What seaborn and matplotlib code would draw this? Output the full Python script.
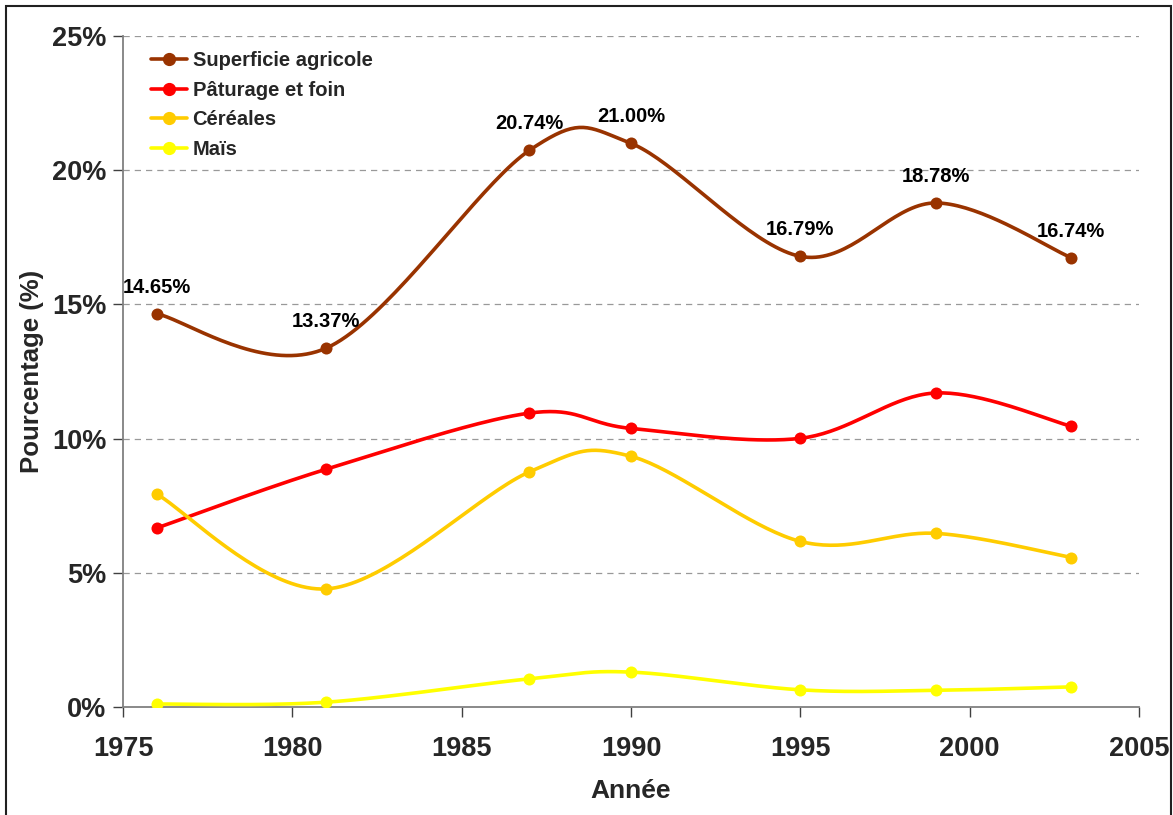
import numpy as np
import pandas as pd
import matplotlib
matplotlib.use("Agg")
import matplotlib.pyplot as plt
from matplotlib.lines import Line2D
from matplotlib.patches import Rectangle
import seaborn as sns

years = [1976, 1981, 1987, 1990, 1995, 1999, 2003]
superficie = [14.65, 13.37, 20.74, 21.00, 16.79, 18.78, 16.74]
paturage = [6.67, 8.86, 10.95, 10.38, 10.01, 11.70, 10.46]
cereales = [7.93, 4.40, 8.76, 9.34, 6.17, 6.47, 5.57]
mais = [0.11, 0.18, 1.05, 1.30, 0.64, 0.62, 0.75]

series_names = ["Superficie agricole", "Pâturage et foin", "Céréales", "Maïs"]
series_values = [superficie, paturage, cereales, mais]
colors = ["#993300", "#FF0000", "#FFCC00", "#FFFF00"]
label_texts = ["14.65%", "13.37%", "20.74%", "21.00%", "16.79%", "18.78%", "16.74%"]

sns.set_theme(style="white")
plt.rcParams['font.family'] = ['Liberation Sans', 'DejaVu Sans']
plt.rcParams['font.weight'] = 'bold'


def smooth(xs, ys, n=40):
    """Catmull-Rom style Bezier smoothing (as in spreadsheet 'smoothed line')."""
    P = np.column_stack([xs, ys]).astype(float)
    out = []
    m = len(P)
    t = np.linspace(0, 1, n)
    for i in range(m - 1):
        p0 = P[i - 1] if i > 0 else P[i]
        p1 = P[i]
        p2 = P[i + 1]
        p3 = P[i + 2] if i + 2 < m else P[i + 1]
        c1 = p1 + (p2 - p0) / 6.0
        c2 = p2 - (p3 - p1) / 6.0
        seg = ((1 - t)[:, None] ** 3 * p1 + 3 * ((1 - t) ** 2 * t)[:, None] * c1
               + 3 * ((1 - t) * t ** 2)[:, None] * c2 + (t ** 3)[:, None] * p2)
        if i > 0:
            seg = seg[1:]
        out.append(seg)
    arr = np.vstack(out)
    return arr[:, 0], arr[:, 1]


fig = plt.figure(figsize=(11.73, 8.15), dpi=100)
ax = fig.add_axes([123 / 1173, 108 / 815, (1139 - 123) / 1173, (707 - 36) / 815])

handles = []
for name, vals, col in zip(series_names, series_values, colors):
    sx, sy = smooth(years, vals)
    df_curve = pd.DataFrame({"x": sx, "y": sy})
    sns.lineplot(data=df_curve, x="x", y="y", sort=False, estimator=None,
                 color=col, linewidth=2.6, ax=ax, zorder=3)
    df_pts = pd.DataFrame({"x": years, "y": vals})
    sns.scatterplot(data=df_pts, x="x", y="y", color=col, s=75,
                    edgecolor=col, linewidth=0, ax=ax, zorder=4)
    handles.append(Line2D([0], [0], color=col, lw=2.6, marker="o",
                          markersize=8.5, markeredgecolor=col, label=name))

for x, y, txt in zip(years, superficie, label_texts):
    ax.annotate(txt, (x, y), xytext=(0, 19), textcoords="offset points",
                ha="center", va="center", fontsize=14.5, fontweight="bold",
                color="black", zorder=5)

ax.set_xlim(1975, 2005)
ax.set_ylim(0, 25)
ax.set_xticks(range(1975, 2006, 5))
ax.set_yticks([0, 5, 10, 15, 20, 25])
ax.set_yticklabels([f"{v}%" for v in [0, 5, 10, 15, 20, 25]])
ax.set_xlabel("Année", fontsize=19, fontweight="bold", labelpad=12)
ax.set_ylabel("Pourcentage (%)", fontsize=18.5, fontweight="bold", labelpad=6)
ax.tick_params(axis="both", which="major", labelsize=19.5, direction="out",
               length=7, width=1, color="#404040", left=True, bottom=True)
ax.tick_params(axis="x", pad=14)
ax.tick_params(axis="y", pad=5)
for lab in ax.get_xticklabels() + ax.get_yticklabels():
    lab.set_fontweight("bold")

for y in [5, 10, 15, 20, 25]:
    ax.axhline(y, color="#999999", linestyle=(0, (5, 4)), linewidth=0.9, zorder=1)

for side in ["top", "right"]:
    ax.spines[side].set_visible(False)
for side in ["left", "bottom"]:
    ax.spines[side].set_color("#808080")
    ax.spines[side].set_linewidth(1.3)

leg = ax.legend(handles=handles, loc="upper left", bbox_to_anchor=(0.014, 0.998),
                frameon=False, fontsize=14.5, handlelength=1.75, handletextpad=0.3,
                labelspacing=0.52, borderaxespad=0.3)
for t in leg.get_texts():
    t.set_fontweight("bold")

fig.patches.append(Rectangle((6 / 1173, -0.01), (1171 - 6) / 1173, (815 - 6) / 815 + 0.01,
                             transform=fig.transFigure, fill=False,
                             edgecolor="#202020", linewidth=1.5))

fig.savefig("out.png", dpi=100)
